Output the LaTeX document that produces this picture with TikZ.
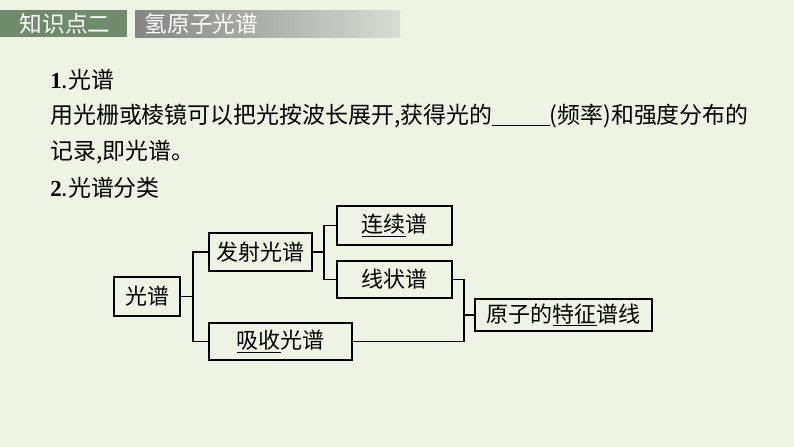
\documentclass[tikz,border=0pt]{standalone}
\usepackage{fontspec}
\newfontfamily\cjk{Noto Sans CJK SC}
\setmainfont{Liberation Serif}
\definecolor{bg}{HTML}{EEF3E4}
\definecolor{hgreen}{HTML}{6E8C6A}
\definecolor{hgrey}{HTML}{858585}
\definecolor{hlight}{HTML}{D8DCD2}
\tikzset{box/.style={draw=black,line width=1.3pt,inner sep=0pt,font=\cjk\fontsize{16.5}{16}\selectfont},
  link/.style={line width=1.1pt},
  txt/.style={anchor=west,inner sep=0pt,font=\cjk\fontsize{17.2}{18}\selectfont}}
\newcommand{\bnum}[1]{{\rmfamily\bfseries #1}}
\begin{document}
\begin{tikzpicture}[x=0.75pt,y=-0.75pt]
\fill[bg] (0,0) rectangle (794,447);
\useasboundingbox (0,0) rectangle (794,447);
\fill[hgreen] (0,10) rectangle (127,37);
\shade[left color=hgrey,right color=hlight] (135,10) rectangle (400,37);
\node[anchor=west,text=white,font=\cjk\fontsize{17}{16}\selectfont] (h1) at (15,23.5) {知识点二};
\node[anchor=west,text=white,font=\cjk\fontsize{17}{16}\selectfont] (h2) at (140,23.5) {氢原子光谱};
\node[txt] (t1) at (50,80) {\bnum{1}.光谱};
\node[txt] (t2) at (50,116) {用光栅或棱镜可以把光按波长展开,获得光的\underline{\hspace{2.5em}}(频率)和强度分布的};
\node[txt] (t3) at (50,152) {记录,即光谱。};
\node[txt] (t4) at (50,188) {\bnum{2}.光谱分类};
\node[box,minimum width=66*0.75pt,minimum height=39*0.75pt,align=center] (a) at (147,296.5) {光谱};
\node[box,minimum width=103*0.75pt,minimum height=38*0.75pt,align=center] (b) at (260.5,252) {发射光谱};
\node[box,minimum width=143*0.75pt,minimum height=37*0.75pt,align=center] (c) at (280.5,341.5) {\underline{吸收}光谱};
\node[box,minimum width=115*0.75pt,minimum height=39*0.75pt,align=center] (d) at (394.5,225.5) {\underline{连续}谱};
\node[box,minimum width=115*0.75pt,minimum height=37*0.75pt,align=center] (e) at (394.5,279.5) {线状谱};
\node[box,minimum width=177*0.75pt,minimum height=32*0.75pt,align=center] (f) at (563.5,315) {原子的\underline{特征}谱线};
\draw[link] (a.east) -- (193,296.5) coordinate (j1);
\draw[link] (b.west) -| (j1) |- (c.west);
\draw[link] (b.east) -- (324,252) coordinate (j2);
\draw[link] (d.west) -| (j2) |- (e.west);
\draw[link] (e.east) -| (464,315) coordinate (j3) -- (f.west);
\draw[link] (c.east) -| (j3);
\end{tikzpicture}
\end{document}
